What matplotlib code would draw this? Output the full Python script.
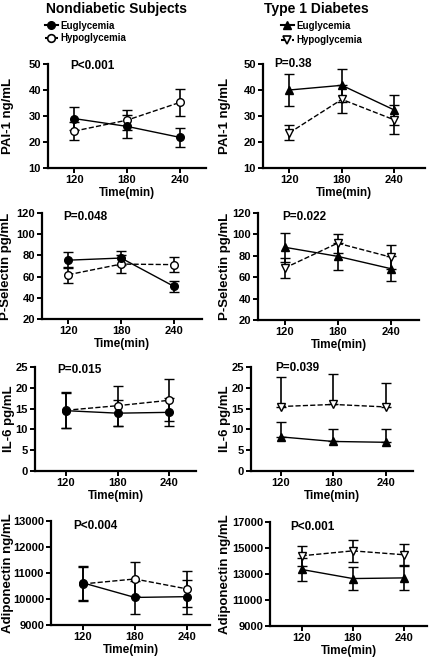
import numpy as np
import matplotlib
matplotlib.use('Agg')
import matplotlib.pyplot as plt
from matplotlib.lines import Line2D

plt.rcParams['font.family'] = ['Liberation Sans', 'DejaVu Sans']
plt.rcParams['font.weight'] = 'bold'

times = [120, 180, 240]

# nondiabetic subjects (circles)
pai_nd_eu = [29.0, 26.0, 21.8]
pai_nd_eu_err = [4.5, 4.5, 3.7]
pai_nd_hy = [24.2, 28.4, 35.2]
pai_nd_hy_err = [3.5, 3.9, 5.2]
psel_nd_eu = [75.5, 77.5, 50.8]
psel_nd_eu_err = [7.8, 7.0, 5.0]
psel_nd_hy = [61.8, 71.8, 71.3]
psel_nd_hy_err = [7.5, 8.5, 7.3]
il6_nd_eu = [14.5, 13.9, 14.1]
il6_nd_eu_err = [4.2, 3.2, 3.4]
il6_nd_hy = [14.6, 15.7, 17.0]
il6_nd_hy_err = [4.3, 4.8, 5.0]
adipo_nd_eu = [10620, 10060, 10090]
adipo_nd_eu_err = [650, 650, 650]
adipo_nd_hy = [10580, 10770, 10390]
adipo_nd_hy_err = [650, 650, 690]

# type 1 diabetes (triangles)
pai_t1_eu = [40.0, 41.8, 32.3]
pai_t1_eu_err = [6.1, 6.3, 5.7]
pai_t1_hy = [23.5, 36.4, 28.5]
pai_t1_hy_err = [2.9, 5.4, 5.6]
psel_t1_eu = [88.0, 79.5, 68.0]
psel_t1_eu_err = [13.5, 12.5, 12.0]
psel_t1_hy = [68.5, 91.8, 78.8]
psel_t1_hy_err = [9.0, 9.0, 11.5]
il6_t1_eu = [8.2, 7.1, 6.9]
il6_t1_eu_up = [3.5, 3.1, 3.3]
il6_t1_hy = [15.5, 16.0, 15.4]
il6_t1_hy_up = [7.0, 7.3, 5.8]
adipo_t1_eu = [13350, 12650, 12700]
adipo_t1_eu_err = [900, 880, 900]
adipo_t1_hy = [14400, 14780, 14480]
adipo_t1_hy_err = [750, 820, 800]

W, H = 429, 659
fig = plt.figure(figsize=(W / 100, H / 100), dpi=100)

def box(l, r, t, b):
    return [l / W, 1 - b / H, (r - l) / W, (b - t) / H]

def style(ax, ylim, yticks, ylabel, ptext, px, py, xlim, lab_x):
    ax.set_xlim(*xlim)
    ax.set_ylim(*ylim)
    ax.set_yticks(yticks)
    ax.set_xticks(times)
    for s in ['top', 'right']:
        ax.spines[s].set_visible(False)
    for s in ['left', 'bottom']:
        ax.spines[s].set_linewidth(1.6)
    ax.tick_params(width=1.4, length=3.5, labelsize=8, pad=1.5)
    for lab in ax.get_xticklabels() + ax.get_yticklabels():
        lab.set_fontweight('bold')
    ax.set_xlabel('Time(min)', fontsize=8.5, fontweight='bold', labelpad=1.5)
    ax.set_ylabel(ylabel, fontsize=9.5, fontweight='bold', va='center')
    # place the y label centre at a given figure pixel column
    pos = ax.get_position()
    ax.yaxis.set_label_coords((lab_x / W - pos.x0) / pos.width, 0.5)
    ax.text(px, py, ptext, transform=ax.transAxes, fontsize=8.5,
            fontweight='bold', va='center', ha='left')

def series(ax, y, err, marker, fill, ls):
    ax.errorbar(times, y, yerr=err, color='black', lw=1.0, ls=ls,
                marker=marker, ms=5.5, mfc=fill, mec='black', mew=1.0,
                ecolor='black', elinewidth=1.2, capsize=3.5, capthick=1.2,
                zorder=3)

# Nondiabetic column
ax = fig.add_axes(box(48, 206, 64, 168))
series(ax, pai_nd_hy, pai_nd_hy_err, 'o', 'white', '--')
series(ax, pai_nd_eu, pai_nd_eu_err, 'o', 'black', '-')
style(ax, (10, 50), [10, 20, 30, 40, 50], 'PAI-1 ng/mL', 'P<0.001', 0.14, 0.98, (90, 270), 8)

ax = fig.add_axes(box(42, 202, 213, 319))
series(ax, psel_nd_hy, psel_nd_hy_err, 'o', 'white', '--')
series(ax, psel_nd_eu, psel_nd_eu_err, 'o', 'black', '-')
style(ax, (20, 120), [20, 40, 60, 80, 100, 120], 'P-Selectin pg/mL', 'P=0.048', 0.13, 0.96, (90, 272), 6)

ax = fig.add_axes(box(35, 196, 367, 471))
series(ax, il6_nd_hy, il6_nd_hy_err, 'o', 'white', '--')
series(ax, il6_nd_eu, il6_nd_eu_err, 'o', 'black', '-')
style(ax, (0, 25), [0, 5, 10, 15, 20, 25], 'IL-6 pg/mL', 'P=0.015', 0.14, 0.97, (84, 271), 9)

ax = fig.add_axes(box(51, 210, 521, 625))
series(ax, adipo_nd_hy, adipo_nd_hy_err, 'o', 'white', '--')
series(ax, adipo_nd_eu, adipo_nd_eu_err, 'o', 'black', '-')
style(ax, (9000, 13000), [9000, 10000, 11000, 12000, 13000], 'Adiponectin ng/mL', 'P<0.004', 0.14, 0.95, (83, 267), 8)

# Type 1 diabetes column
ax = fig.add_axes(box(263, 425, 64, 168))
series(ax, pai_t1_hy, pai_t1_hy_err, 'v', 'white', '--')
series(ax, pai_t1_eu, pai_t1_eu_err, '^', 'black', '-')
style(ax, (10, 50), [10, 20, 30, 40, 50], 'PAI-1 ng/mL', 'P=0.38', 0.07, 1.0, (90, 275), 225)

ax = fig.add_axes(box(258, 419, 213, 320))
series(ax, psel_t1_hy, psel_t1_hy_err, 'v', 'white', '--')
series(ax, psel_t1_eu, psel_t1_eu_err, '^', 'black', '-')
style(ax, (20, 120), [20, 40, 60, 80, 100, 120], 'P-Selectin pg/mL', 'P=0.022', 0.15, 0.96, (90, 272), 225)

ax = fig.add_axes(box(251, 413, 367, 471))
series(ax, il6_t1_hy, [[0, 0, 0], il6_t1_hy_up], 'v', 'white', '--')
series(ax, il6_t1_eu, [[0, 0, 0], il6_t1_eu_up], '^', 'black', '-')
style(ax, (0, 25), [0, 5, 10, 15, 20, 25], 'IL-6 pg/mL', 'P=0.039', 0.15, 0.99, (86, 271), 225)

ax = fig.add_axes(box(270, 427, 522, 626))
series(ax, adipo_t1_hy, adipo_t1_hy_err, 'v', 'white', '--')
series(ax, adipo_t1_eu, adipo_t1_eu_err, '^', 'black', '-')
style(ax, (9000, 17000), [9000, 11000, 13000, 15000, 17000], 'Adiponectin ng/mL', 'P<0.001', 0.13, 0.95, (83, 267), 225)

# titles
fig.text(117 / W, 1 - 12.5 / H, 'Nondiabetic Subjects', ha='center', va='baseline',
         fontsize=10, fontweight='bold')
fig.text(316 / W, 1 - 12.5 / H, 'Type 1 Diabetes', ha='center', va='baseline',
         fontsize=10, fontweight='bold')

# legends
h_nd = [Line2D([], [], color='black', ls='-', lw=1.5, marker='o', ms=5.5, mfc='black', mec='black'),
        Line2D([], [], color='black', ls='--', lw=1.5, marker='o', ms=5.5, mfc='white', mec='black', mew=1.2)]
fig.legend(h_nd, ['Euglycemia', 'Hypoglycemia'], loc='center left',
           bbox_to_anchor=(40 / W, 1 - 32 / H), frameon=False,
           handlelength=1.3, handletextpad=0.3, labelspacing=0.3, borderpad=0,
           prop={'weight': 'bold', 'size': 7})

h_t1 = [Line2D([], [], color='black', ls='-', lw=1.5, marker='^', ms=5.5, mfc='black', mec='black'),
        Line2D([], [], color='black', ls='--', lw=1.5, marker='v', ms=5.5, mfc='white', mec='black', mew=1.2)]
fig.legend(h_t1, ['Euglycemia', 'Hypoglycemia'], loc='center left',
           bbox_to_anchor=(276 / W, 1 - 33 / H), frameon=False,
           handlelength=1.3, handletextpad=0.3, labelspacing=0.45, borderpad=0,
           prop={'weight': 'bold', 'size': 7})

fig.savefig('out.png', dpi=100)
